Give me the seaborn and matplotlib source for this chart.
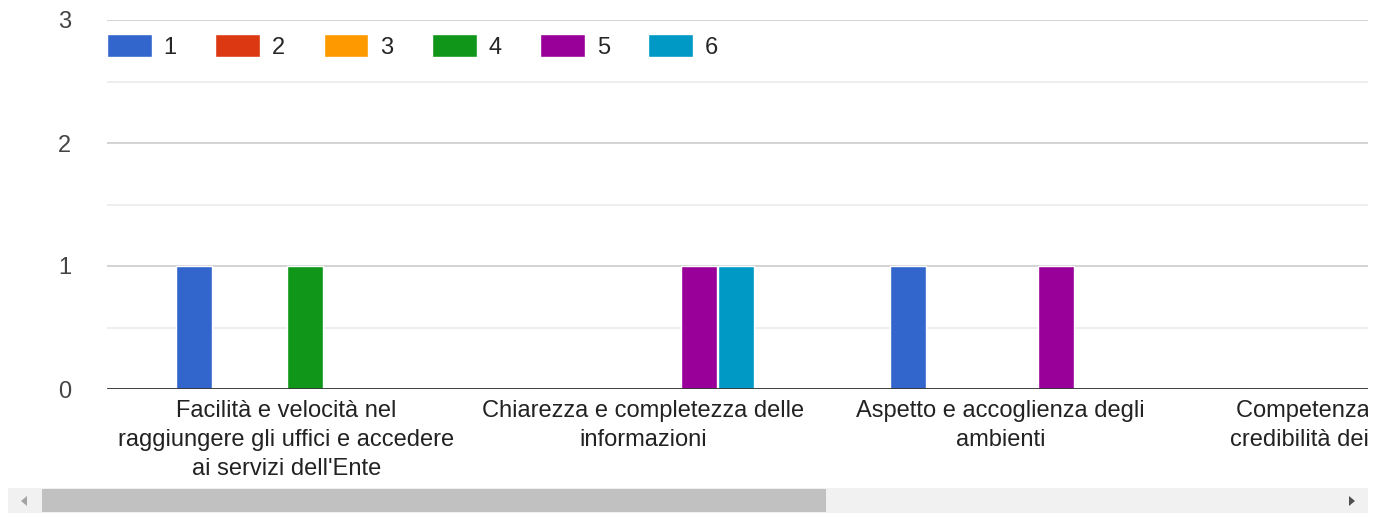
import matplotlib
matplotlib.use('Agg')
import matplotlib.pyplot as plt
from matplotlib.patches import Rectangle, Polygon
from matplotlib.transforms import Bbox, TransformedBbox
import seaborn as sns
import pandas as pd

# data
categories = ["Facilità e velocità nel\nraggiungere gli uffici e accedere\nai servizi dell'Ente",
              "Chiarezza e completezza delle\ninformazioni",
              "Aspetto e accoglienza degli\nambienti",
              "Competenza e cortesia\ncredibilità dei dipendenti"]
series = ['1', '2', '3', '4', '5', '6']
v1 = [1, 0, 1, 0]
v2 = [0, 0, 0, 0]
v3 = [0, 0, 0, 0]
v4 = [1, 0, 0, 0]
v5 = [0, 1, 1, 0]
v6 = [0, 1, 0, 0]
colors = ['#3366cc', '#dc3912', '#ff9900', '#109618', '#990099', '#0099c6']

rows = []
for s, vals in zip(series, [v1, v2, v3, v4, v5, v6]):
    for c, v in zip(categories, vals):
        rows.append({'cat': c, 'serie': s, 'val': v})
df = pd.DataFrame(rows)

sns.set_style('white')
plt.rcParams['font.family'] = ['Liberation Sans', 'DejaVu Sans']

W, H = 1375, 513
fig = plt.figure(figsize=(W / 100, H / 100), dpi=100)
ax = fig.add_axes([107 / W, 1 - 389 / H, (1368 - 107) / W, (389 - 20) / H])

sns.barplot(data=df, x='cat', y='val', hue='serie', order=categories, hue_order=series,
            palette=colors, width=0.622, gap=0.04, ax=ax, saturation=1, legend=True)

ax.set_xlim(-0.503, 3.03)
ax.set_ylim(0, 3)
ax.set_yticks([0, 1, 2, 3])
ax.set_yticks([0.5, 1.5, 2.5], minor=True)
ax.grid(axis='y', which='major', color='#cccccc', lw=1.2)
ax.grid(axis='y', which='minor', color='#ebebeb', lw=1.2)
ax.set_axisbelow(True)
ax.axhline(0, color='#333333', lw=2, zorder=5)
for sp in ax.spines.values():
    sp.set_visible(False)
ax.set_xlabel('')
ax.set_ylabel('')
ax.tick_params(axis='both', length=0, labelsize=17, colors='#222222')
ax.tick_params(axis='y', pad=26, labelcolor='#444444')
ax.tick_params(axis='x', pad=8)
ax.set_xticks(range(len(categories)))
ax.set_xticklabels(categories, linespacing=1.42, va='top')
ax.xaxis.set_minor_locator(matplotlib.ticker.NullLocator())

# clip the tick labels to the visible window (chart scrolls horizontally)
clip = TransformedBbox(Bbox([[0, 0], [1368 / W, 1]]), fig.transFigure)
for lab in ax.get_xticklabels():
    lab.set_clip_box(clip)
    lab.set_clip_on(True)

ax.legend(loc='center left', bbox_to_anchor=(0.0, 0.928), ncol=6, frameon=False,
          fontsize=17, handlelength=1.9, handleheight=1.1, handletextpad=0.5,
          columnspacing=1.63, borderaxespad=0, borderpad=0)

# horizontal scrollbar
def px(x, y):
    return (x / W, 1 - y / H)

fig.add_artist(Rectangle(px(8, 513), 1360 / W, 25 / H, transform=fig.transFigure,
                         color='#f1f1f1', lw=0))
fig.add_artist(Rectangle(px(42, 512), 784 / W, 23 / H, transform=fig.transFigure,
                         color='#c1c1c1', lw=0))
fig.add_artist(Polygon([px(21, 501), px(27, 496), px(27, 506)], closed=True,
                       transform=fig.transFigure, color='#a3a3a3', lw=0))
fig.add_artist(Polygon([px(1355, 501), px(1349, 496), px(1349, 506)], closed=True,
                       transform=fig.transFigure, color='#505050', lw=0))

fig.savefig('out.png', dpi=100)
